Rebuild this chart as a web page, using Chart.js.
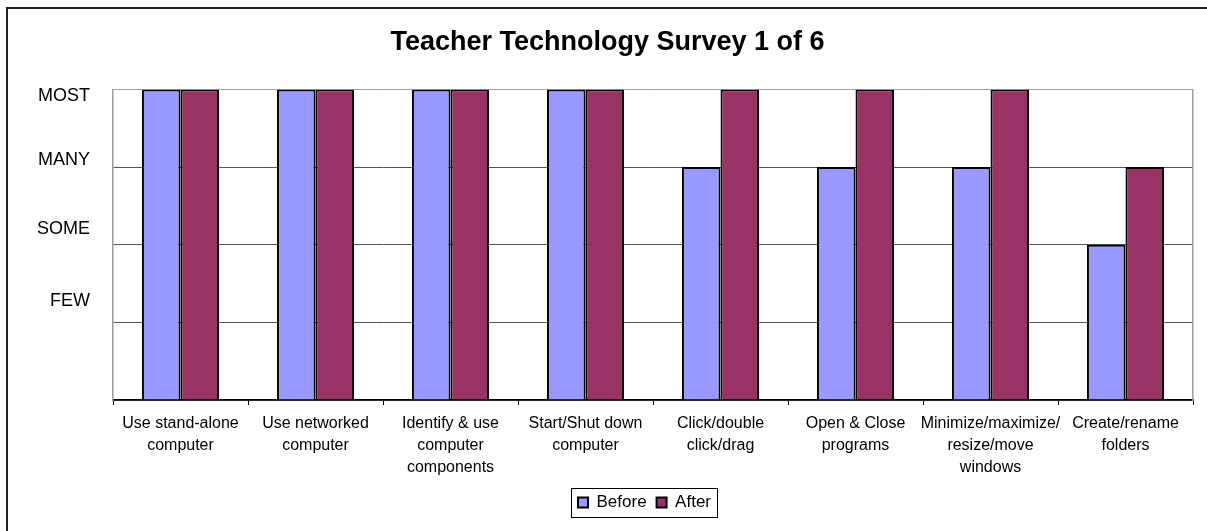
<!DOCTYPE html>
<html>
<head>
<meta charset="utf-8">
<script src="https://cdn.jsdelivr.net/npm/chart.js@4/dist/chart.umd.min.js"></script>
<style>
  html, body { margin: 0; padding: 0; background: #fff; overflow: hidden; }
  .wrap { position: relative; width: 1207px; height: 531px; }
  .frame { position: absolute; left: 6px; top: 7px; width: 1400px; height: 700px;
           border-left: 2px solid #222; border-top: 2px solid #222; pointer-events: none; }
  canvas { position: absolute; left: 0; top: 0; }
</style>
</head>
<body>
<div class="wrap">
  <canvas id="survey-chart" width="1207" height="531"></canvas>
  <div class="frame"></div>
</div>
<script>
const categories = [
  ['Use stand-alone', 'computer'],
  ['Use networked', 'computer'],
  ['Identify & use', 'computer', 'components'],
  ['Start/Shut down', 'computer'],
  ['Click/double', 'click/drag'],
  ['Open & Close', 'programs'],
  ['Minimize/maximize/', 'resize/move', 'windows'],
  ['Create/rename', 'folders']
];
const beforeValues = [4, 4, 4, 4, 3, 3, 3, 2];
const afterValues = [4, 4, 4, 4, 4, 4, 4, 3];
const levelLabels = ['MOST', 'MANY', 'SOME', 'FEW'];
const levelLabelAt = [3.91, 3.09, 2.2, 1.28];

const FONT = "'Liberation Sans', Arial, sans-serif";

// legend sits a bit right of centre in the original, with a thin box round it
const legendBox = {
  id: 'legendBox',
  afterLayout(chart) {
    chart.legend.left += 48;
    chart.legend.right += 48;
  },
  afterDraw(chart) {
    const boxes = chart.legend.legendHitBoxes;
    if (!boxes || !boxes.length) return;
    const left = Math.min(...boxes.map(b => b.left)) - 7;
    const right = Math.max(...boxes.map(b => b.left + b.width)) + 6;
    const top = Math.min(...boxes.map(b => b.top)) - 6;
    const bottom = Math.max(...boxes.map(b => b.top + b.height)) + 6;
    const ctx = chart.ctx;
    ctx.save();
    ctx.strokeStyle = '#000';
    ctx.lineWidth = 1;
    ctx.strokeRect(Math.round(left) + 0.5, Math.round(top) + 0.5, Math.round(right - left), Math.round(bottom - top));
    ctx.restore();
  }
};

const chart = new Chart(document.getElementById('survey-chart'), {
  type: 'bar',
  data: {
    labels: categories,
    datasets: [{
      label: 'Before',
      data: beforeValues,
      backgroundColor: '#9999ff',
      borderColor: '#000',
      borderWidth: 2,
      categoryPercentage: 0.571,
      barPercentage: 1
    }, {
      label: 'After',
      data: afterValues,
      backgroundColor: '#993366',
      borderColor: '#000',
      borderWidth: 2,
      categoryPercentage: 0.571,
      barPercentage: 1
    }]
  },
  options: {
    responsive: false,
    animation: false,
    layout: { padding: { left: 0, right: 14, top: 0, bottom: 10 } },
    plugins: {
      tooltip: { enabled: false },
      title: {
        display: true,
        text: 'Teacher Technology Survey 1 of 6',
        color: '#000',
        font: { family: FONT, size: 27, weight: 'bold' },
        padding: { top: 26, bottom: 31 }
      },
      legend: {
        position: 'bottom',
        labels: {
          color: '#000',
          font: { family: FONT, size: 17 },
          boxWidth: 10,
          boxHeight: 10,
          padding: 10
        }
      }
    },
    scales: {
      x: {
        offset: true,
        grid: { offset: true, drawOnChartArea: false, drawTicks: true, tickLength: 5, color: '#000' },
        border: { color: '#000', width: 1.5 },
        ticks: {
          color: '#000',
          font: { family: FONT, size: 16, lineHeight: 1.37 },
          maxRotation: 0,
          autoSkip: false,
          padding: 8
        },
        afterFit(scale) { scale.height = 84; }
      },
      y: {
        position: 'left',
        min: 0,
        max: 4,
        ticks: { display: false, stepSize: 1 },
        grid: {
          drawTicks: false,
          color: (c) => c.tick && c.tick.value === 4 ? '#a0a0a0' : '#555',
          lineWidth: 1
        },
        border: { color: '#999', width: 1.5 },
        afterFit(scale) { scale.width = 0; }
      },
      yl: {
        position: 'left',
        min: 0,
        max: 4,
        grid: { display: false, drawTicks: false },
        border: { display: false },
        afterBuildTicks(scale) {
          scale.ticks = levelLabelAt.map(v => ({ value: v }));
        },
        ticks: {
          color: '#000',
          font: { family: FONT, size: 18 },
          padding: 23,
          callback: (value, index) => levelLabels[index]
        },
        afterFit(scale) { scale.width = 113; }
      },
      yr: {
        position: 'right',
        min: 0,
        max: 4,
        ticks: { display: false },
        grid: { display: false, drawTicks: false },
        border: { color: '#a0a0a0', width: 1.5 },
        afterFit(scale) { scale.width = 0; }
      }
    }
  },
  plugins: [legendBox]
});

// the original title is centred a little right of the canvas middle
const titleDraw = chart.titleBlock.draw.bind(chart.titleBlock);
chart.titleBlock.draw = function () {
  const ctx = this.ctx;
  ctx.save();
  ctx.translate(11, 0);
  titleDraw();
  ctx.restore();
};
chart.draw();
</script>
</body>
</html>
